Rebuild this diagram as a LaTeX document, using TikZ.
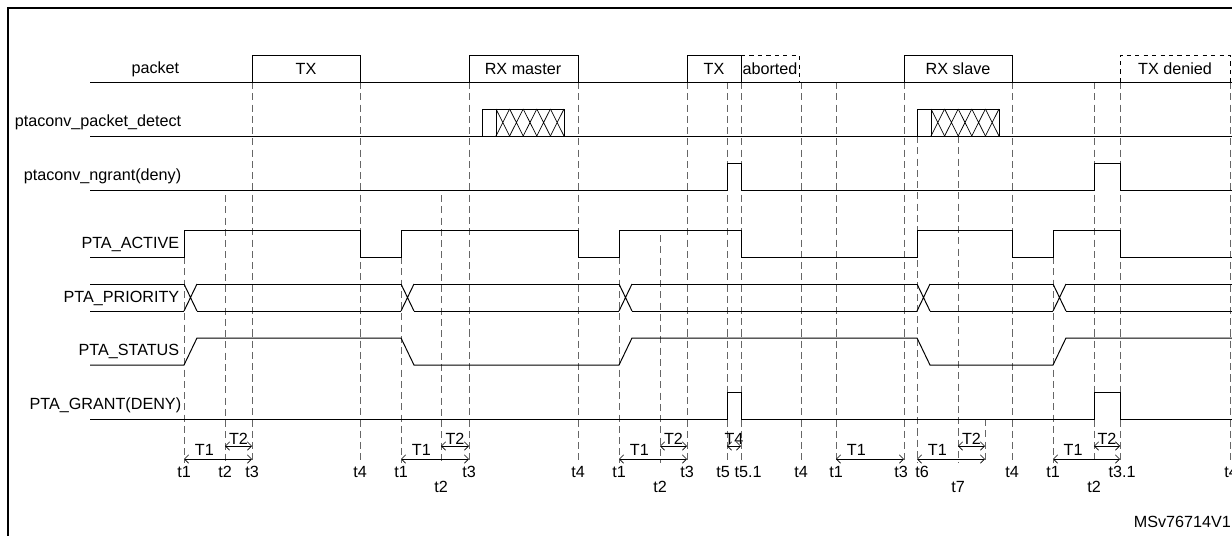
\documentclass[tikz,border=0pt]{standalone}
\usepackage{fontspec}
\setmainfont{Liberation Sans}
\usepackage{tikz}
\usetikzlibrary{positioning, calc, arrows.meta}

\begin{document}
\begin{tikzpicture}[x=0.025cm, y=-0.025cm, line width=0.6pt,
    font=\fontsize{11.5}{13}\selectfont,
    sig/.style={draw, line width=0.7pt},
    guide/.style={draw, dashed, line width=0.4pt, gray!80!black, dash pattern=on 5pt off 3pt},
    span/.style={draw, {Straight Barb[length=3pt,width=6pt]}-{Straight Barb[length=3pt,width=6pt]}, line width=0.4pt},
    lbl/.style={anchor=east, inner sep=1pt}]
    \useasboundingbox (0,0) rectangle (1232,535);
    % frame
    \draw[line width=1.2pt] (1240,8) -- (8,8) -- (8,545);

    % signal names
    \node[lbl] (packet) at (181,69) {packet};
    \node[lbl] (detect) at (183,122) {ptaconv\_packet\_detect};
    \node[lbl] (ngrant) at (183,176) {ptaconv\_ngrant(deny)};
    \node[lbl] (active) at (181,244) {PTA\_ACTIVE};
    \node[lbl] (prio) at (181,298) {PTA\_PRIORITY};
    \node[lbl] (status) at (181,351) {PTA\_STATUS};
    \node[lbl] (grant) at (183,405) {PTA\_GRANT(DENY)};

    % guides: x / top
    \foreach \x/\top in {184/257, 225/195, 252/82, 360/82, 401/257, 441/195,
        469/82, 578/82, 619/257, 660/235, 687/82, 727/82, 741/82, 801/82,
        836/82, 904/82, 917/136, 958/136, 1012/82, 1053/257, 1094/82,
        1120/82, 1230/82}
        \draw[guide] (\x,\top) -- (\x,463);
    \draw[guide] (985,419) -- (985,462);

    % packet
    \draw[sig] (90,82) -- (1232,82);
    \draw[sig] (252,82) -- (252,55) -- (360,55) -- (360,82);
    \draw[sig] (469,82) -- (469,55) -- (578,55) -- (578,82);
    \draw[sig] (687,82) -- (687,55) -- (741,55) -- (741,82);
    \draw[sig] (904,82) -- (904,55) -- (1012,55) -- (1012,82);
    \draw[sig, dashed] (741,55) -- (799,55) -- (799,82);
    \draw[sig, dashed] (1120,82) -- (1120,55) -- (1230,55) -- (1230,82);
    \node (tx1) at (306,69) {TX};
    \node (rxm) at (523,69) {RX master};
    \node (tx2) at (714,69) {TX};
    \node (abort) at (770,69) {aborted};
    \node (rxs) at (958,69) {RX slave};
    \node (txd) at (1175,69) {TX denied};

    % packet detect
    \draw[sig] (90,136) -- (1232,136);
    \foreach \a/\b/\c in {482/496/564, 917/931/999} {
        \draw[sig, line width=0.5pt] (\a,136) -- (\a,109) -- (\c,109) -- (\c,136);
        \draw[line width=0.5pt] (\b,109) -- (\b,136);
        \foreach \i in {0,...,4}
            \draw[line width=0.5pt] ({\b+\i*(\c-\b)/5},109) -- ({\b+(\i+1)*(\c-\b)/5},136)
                ({\b+\i*(\c-\b)/5},136) -- ({\b+(\i+1)*(\c-\b)/5},109);
    }

    % ngrant
    \draw[sig] (90,190) -- (727,190) -- (727,163) -- (741,163) -- (741,190)
        -- (1094,190) -- (1094,163) -- (1120,163) -- (1120,190) -- (1232,190);

    % PTA_ACTIVE
    \draw[sig] (90,257) -- (184,257) -- (184,230) -- (360,230) -- (360,257)
        -- (401,257) -- (401,230) -- (578,230) -- (578,257) -- (619,257)
        -- (619,230) -- (741,230) -- (741,257) -- (917,257) -- (917,230)
        -- (1012,230) -- (1012,257) -- (1053,257) -- (1053,230) -- (1120,230)
        -- (1120,257) -- (1232,257);

    % PTA_PRIORITY
    \draw[sig] (90,284) -- (184,284) (90,311) -- (184,311);
    \foreach \a/\b in {184/401, 401/619, 619/917, 917/1053, 1053/1232} {
        \draw[sig] (\a,284) -- (\a+13,311) (\a,311) -- (\a+13,284);
        \draw[sig] (\a+13,284) -- (\b,284) (\a+13,311) -- (\b,311);
    }

    % PTA_STATUS
    \draw[sig] (90,365) -- (184,365) -- (197,338) -- (401,338) -- (414,365)
        -- (619,365) -- (632,338) -- (917,338) -- (930,365) -- (1053,365)
        -- (1066,338) -- (1232,338);

    % PTA_GRANT
    \draw[sig] (90,419) -- (727,419) -- (727,392) -- (741,392) -- (741,419)
        -- (1094,419) -- (1094,392) -- (1120,392) -- (1120,419) -- (1232,419);

    % intervals
    \foreach \a/\b/\n in {184/252/T1, 401/469/T1, 619/687/T1, 836/904/T1,
        917/985/T1, 1053/1120/T1}
        \draw[span] (\a,459) -- node[above, pos=0.3, inner sep=2pt] {\n} (\b,459);
    \foreach \a/\b/\n in {225/252/T2, 441/469/T2, 660/687/T2, 958/985/T2,
        1094/1120/T2, 727/741/T4}
        \draw[span] (\a,446) -- node[above, inner sep=1pt] {\n} (\b,446);

    % time marks
    \foreach \x/\t in {184/t1, 225/t2, 252/t3, 360/t4, 401/t1, 469/t3, 578/t4,
        619/t1, 687/t3, 723/t5, 748/t5.1, 801/t4, 836/t1, 901/t3, 922/t6,
        1012/t4, 1053/t1, 1122/t3.1, 1231/t4}
        \node[anchor=center] at (\x,472) {\t};
    \foreach \x/\t in {441/t2, 660/t2, 958/t7, 1094/t2}
        \node[anchor=center] at (\x,487) {\t};

    \node[anchor=east] (ref) at (1236,522) {MSv76714V1};
\end{tikzpicture}
\end{document}
